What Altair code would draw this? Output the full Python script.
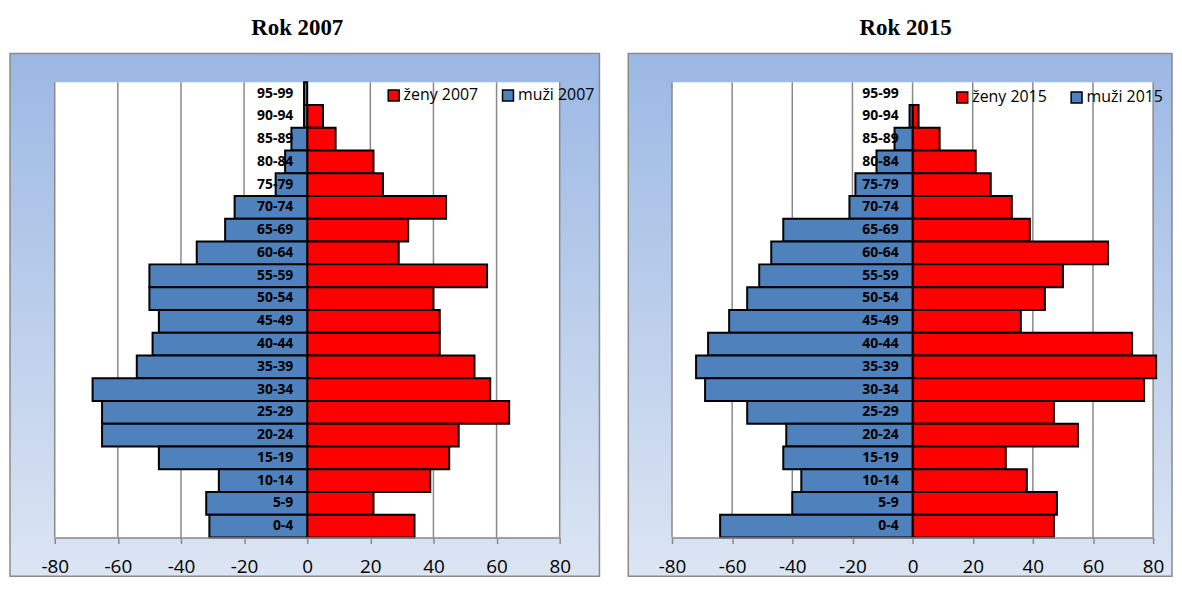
import altair as alt
import pandas as pd

ages = ["95-99", "90-94", "85-89", "80-84", "75-79", "70-74", "65-69", "60-64",
        "55-59", "50-54", "45-49", "40-44", "35-39", "30-34", "25-29", "20-24",
        "15-19", "10-14", "5-9", "0-4"]

zeny_2007 = [0, 5, 9, 21, 24, 44, 32, 29, 57, 40, 42, 42, 53, 58, 64, 48, 45, 39, 21, 34]
muzi_2007 = [-1, -1, -5, -7, -10, -23, -26, -35, -50, -50, -47, -49, -54, -68, -65, -65, -47, -28, -32, -31]

zeny_2015 = [0, 2, 9, 21, 26, 33, 39, 65, 50, 44, 36, 73, 81, 77, 47, 55, 31, 38, 48, 47]
muzi_2015 = [0, -1, -6, -12, -19, -21, -43, -47, -51, -55, -61, -68, -72, -69, -55, -42, -43, -37, -40, -64]

ticks = [-80, -60, -40, -20, 0, 20, 40, 60, 80]

RED = "#FF0000"
BLUE = "#4F81BD"
GRID = "#898989"
H = 458


def panel(year, zeny, muzi, W, fl, fr, tx, lx, ly):
    zname = f"ženy {year}"
    mname = f"muži {year}"
    rows = []
    for a, z, m in zip(ages, zeny, muzi):
        rows.append({"age": a, "series": zname, "value": z})
        rows.append({"age": a, "series": mname, "value": m})
    df = pd.DataFrame(rows)

    x_axis = alt.Axis(values=ticks, title=None, grid=False, domainColor=GRID,
                      domainWidth=1.5, tickColor=GRID, tickWidth=1.5, tickSize=6,
                      labelFont="Open Sans", labelFontSize=19, labelColor="black",
                      labelPadding=14, zindex=1, labelFlush=False,
                      labelExpr="'' + datum.value")
    xs = alt.Scale(domain=[-80, 80], nice=False, zero=False)
    ysc = alt.Scale(paddingInner=0, paddingOuter=0)

    one = pd.DataFrame({"k": [0]})
    spacer = alt.Chart(one).mark_rect(fill="white").encode(
        x=alt.value(fl), x2=alt.value(fr), y=alt.value(-72), y2=alt.value(-29))
    frame = alt.Chart(one).mark_rect(
        fill=alt.LinearGradient(gradient="linear",
                                stops=[alt.GradientStop(color="#9BB8E4", offset=0),
                                       alt.GradientStop(color="#DCE5F3", offset=1)],
                                x1=0, x2=0, y1=0, y2=1),
        stroke="#8A8A8A", strokeWidth=1.5).encode(
        x=alt.value(fl), x2=alt.value(fr), y=alt.value(-29), y2=alt.value(497))
    plot_bg = alt.Chart(one).mark_rect(fill="white").encode(
        x=alt.value(0), x2=alt.value(W), y=alt.value(0), y2=alt.value(H))

    grid = alt.Chart(pd.DataFrame({"value": ticks})).mark_rule(
        color=GRID, strokeWidth=1.5).encode(
        x=alt.X("value:Q", scale=xs, axis=x_axis), y=alt.value(0), y2=alt.value(H))

    bars = alt.Chart(df).transform_filter("datum.value != 0").mark_bar(
        stroke="black", strokeWidth=2, opacity=1).encode(
        x=alt.X("value:Q", scale=xs, axis=x_axis),
        y=alt.Y("age:N", sort=ages, scale=ysc, axis=None),
        color=alt.Color("series:N",
                        scale=alt.Scale(domain=[zname, mname], range=[RED, BLUE]),
                        legend=alt.Legend(title=None, orient="none", legendX=lx, legendY=ly,
                                          direction="horizontal", symbolType="square",
                                          symbolSize=121, symbolStrokeColor="black",
                                          symbolStrokeWidth=1.5, symbolOpacity=1,
                                          labelFont="Open Sans", labelFontSize=16,
                                          labelColor="black", columnPadding=20,
                                          labelOffset=2, padding=0)),
    )

    lab_df = pd.DataFrame({"age": ages, "value": [0] * len(ages)})
    labels = alt.Chart(lab_df).mark_text(
        align="right", baseline="middle", dx=-14, font="Open Sans", fontSize=14,
        fontWeight="bold", color="black").encode(
        x=alt.X("value:Q", scale=xs, axis=x_axis),
        y=alt.Y("age:N", sort=ages, scale=ysc, axis=None),
        text="age:N")

    title = alt.Chart(one).mark_text(
        font="Liberation Serif", fontSize=23, fontWeight="bold", align="center",
        baseline="alphabetic", color="black").encode(
        x=alt.value(tx), y=alt.value(-48), text=alt.value(f"Rok {year}"))

    return alt.layer(spacer, frame, plot_bg, grid, bars, labels, title).properties(
        width=W, height=H)


left = panel(2007, zeny_2007, muzi_2007, 508, -45, 548, 244, 333, 5)
right = panel(2015, zeny_2015, muzi_2015, 484, -44, 503, 235, 284, 7)

chart = alt.hconcat(left, right, spacing=25).resolve_scale(
    color="independent", x="independent", y="independent"
).resolve_legend(color="independent").properties(
    padding=0, background="white"
).configure_view(stroke="transparent")

chart.save("out.html", embed_options={"renderer": "svg", "actions": False})
